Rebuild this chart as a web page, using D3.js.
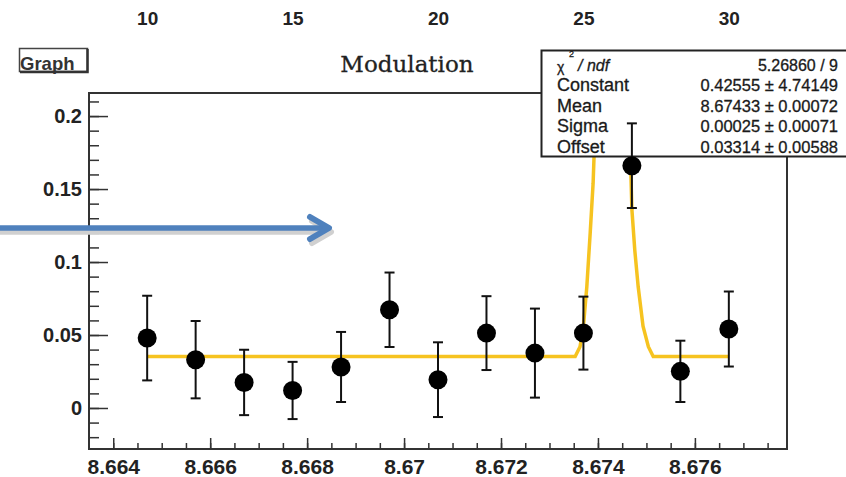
<!DOCTYPE html>
<html>
<head>
<meta charset="utf-8">
<script src="https://d3js.org/d3.v7.min.js"></script>
<style>
  body { margin: 0; background: #fff; }
  .axis text { font-family: "Liberation Sans", Arial, sans-serif; font-weight: bold; fill: #222; }
  .stats text { font-family: "Liberation Sans", Arial, sans-serif; fill: #1a1a1a; stroke: #1a1a1a; stroke-width: 0.3; }
</style>
</head>
<body>
<div id="chart"></div>
<script>
// Define data

var xValues = [8.6647, 8.6657, 8.6667, 8.6677, 8.6687, 8.6697, 8.6707, 8.6717, 8.6727, 8.6737, 8.6747, 8.6757, 8.6767];
var yValues = [0.0479, 0.0331, 0.0175, 0.0120, 0.0281, 0.0673, 0.0194, 0.0513, 0.0376, 0.0513, 0.1660, 0.0251, 0.0541];
var yErrors = [0.0290, 0.0265, 0.0224, 0.0196, 0.0240, 0.0255, 0.0256, 0.0253, 0.0305, 0.0250, 0.0290, 0.0210, 0.0257];

// fit curve (clipped at the frame top)
var fitX = [8.6647, 8.67353, 8.67363, 8.67370, 8.67377, 8.67384, 8.67390, 8.67398, 8.67462, 8.67470, 8.67476, 8.67483, 8.67493, 8.67504, 8.67514, 8.6767];
var fitY = [0.0353, 0.0353, 0.042, 0.056, 0.083, 0.120, 0.154, 0.23, 0.23, 0.136, 0.108, 0.083, 0.056, 0.042, 0.0353, 0.0353];

var xTicks = [8.664, 8.666, 8.668, 8.670, 8.672, 8.674, 8.676];
var xTickLabels = ["8.664", "8.666", "8.668", "8.67", "8.672", "8.674", "8.676"];
var yTicks = [0, 0.05, 0.1, 0.15, 0.2];
var yTickLabels = ["0", "0.05", "0.1", "0.15", "0.2"];
var topTicks = [10, 15, 20, 25, 30];

var statNames = ["Constant", "Mean", "Sigma", "Offset"];
var statValues = ["0.42555 \u00b1 4.74149", "8.67433 \u00b1 0.00072", "0.00025 \u00b1 0.00071", "0.03314 \u00b1 0.00588"];
var chi2ndf = "5.26860 / 9";

// Generate svg

var width = 846;
var height = 477;
var frame = {left: 89, top: 93, right: 787, bottom: 449};

var svg = d3.select("#chart")
  .append("svg")
  .attr("width", width)
  .attr("height", height);

// Define scales

var xScale = d3.scaleLinear()
    .domain([8.66350, 8.67790])
    .range([frame.left, frame.right]);

var yScale = d3.scaleLinear()
    .domain([-0.0281, 0.2158])
    .range([frame.bottom, frame.top]);

var topScale = d3.scaleLinear()
    .domain([10, 30])
    .range([xScale(xValues[0]), xScale(xValues[xValues.length - 1])]);

// Draw frame

svg.append("rect")
  .attr("x", frame.left)
  .attr("y", frame.top)
  .attr("width", frame.right - frame.left)
  .attr("height", frame.bottom - frame.top)
  .attr("fill", "none")
  .attr("stroke", "#333")
  .attr("stroke-width", 2);

// Draw Axes

var xMinor = d3.range(8.6640, 8.6779, 0.0005);
svg.append("g")
  .attr("class", "axis")
  .attr("transform", `translate(0, ${frame.bottom})`)
  .call(d3.axisBottom(xScale).tickValues(xMinor).tickSize(-6).tickFormat(""))
  .call(g => g.select(".domain").remove())
  .selectAll("line").attr("stroke", "#333").attr("stroke-width", 1.5);

svg.append("g")
  .attr("class", "axis")
  .attr("transform", `translate(0, ${frame.bottom})`)
  .call(d3.axisBottom(xScale).tickValues(xTicks).tickSize(-11)
    .tickFormat((d, i) => xTickLabels[i]).tickPadding(10))
  .call(g => g.select(".domain").remove())
  .call(g => g.selectAll("line").attr("stroke", "#333").attr("stroke-width", 1.5))
  .selectAll("text")
    .attr("font-size", 21);

var yMinor = d3.range(-0.02, 0.215, 0.01);
svg.append("g")
  .attr("class", "axis")
  .attr("transform", `translate(${frame.left}, 0)`)
  .call(d3.axisLeft(yScale).tickValues(yMinor).tickSize(-10).tickFormat(""))
  .call(g => g.select(".domain").remove())
  .selectAll("line").attr("stroke", "#333").attr("stroke-width", 1.5);

svg.append("g")
  .attr("class", "axis")
  .attr("transform", `translate(${frame.left}, 0)`)
  .call(d3.axisLeft(yScale).tickValues(yTicks).tickSize(-19)
    .tickFormat((d, i) => yTickLabels[i]).tickPadding(7))
  .call(g => g.select(".domain").remove())
  .call(g => g.selectAll("line").attr("stroke", "#333").attr("stroke-width", 1.5))
  .selectAll("text")
    .attr("font-size", 20);

svg.append("g")
  .attr("class", "axis")
  .attr("transform", "translate(0, 25)")
  .call(d3.axisTop(topScale).tickValues(topTicks).tickSize(0).tickPadding(0))
  .call(g => g.select(".domain").remove())
  .selectAll("text")
    .attr("font-size", 19);

// Draw Labels

svg.append("text")
  .attr("x", 407)
  .attr("y", 72)
  .attr("text-anchor", "middle")
  .attr("font-family", "'DejaVu Serif', serif")
  .attr("font-size", 23)
  .attr("fill", "#222")
  .attr("stroke", "#222")
  .attr("stroke-width", 0.3)
  .text("Modulation");

svg.append("rect")
  .attr("x", 19.5)
  .attr("y", 48.5)
  .attr("width", 68)
  .attr("height", 23)
  .attr("fill", "none")
  .attr("stroke", "#444")
  .attr("stroke-width", 1.5);
svg.append("path")
  .attr("d", "M87.5,49 L87.5,72 L20,72")
  .attr("fill", "none")
  .attr("stroke", "#333")
  .attr("stroke-width", 2.5);
svg.append("text")
  .attr("x", 20)
  .attr("y", 70)
  .attr("font-family", "'Liberation Sans', Arial, sans-serif")
  .attr("font-weight", "bold")
  .attr("font-size", 18.5)
  .attr("fill", "#333")
  .text("Graph");

// Draw fit

svg.append("clipPath")
  .attr("id", "clip")
  .append("rect")
  .attr("x", frame.left)
  .attr("y", frame.top)
  .attr("width", frame.right - frame.left)
  .attr("height", frame.bottom - frame.top);

var fitLine = d3.line()
  .x((d, i) => xScale(fitX[i]))
  .y(d => yScale(d));

svg.append("path")
  .datum(fitY)
  .attr("clip-path", "url(#clip)")
  .attr("d", fitLine)
  .attr("fill", "none")
  .attr("stroke", "#f6c320")
  .attr("stroke-width", 3.5);

// Stats box

var stats = svg.append("g").attr("class", "stats");

stats.append("rect")
  .attr("x", 541.5)
  .attr("y", 50.5)
  .attr("width", 310)
  .attr("height", 106)
  .attr("fill", "#fff")
  .attr("stroke", "#222")
  .attr("stroke-width", 2);

stats.append("text")
  .attr("x", 557).attr("y", 72)
  .attr("font-size", 14)
  .text("\u03c7");
stats.append("text")
  .attr("x", 569).attr("y", 57)
  .attr("font-size", 9)
  .text("2");
stats.append("text")
  .attr("x", 578).attr("y", 71)
  .attr("font-size", 16)
  .attr("font-style", "italic")
  .text("/ ndf");
stats.append("text")
  .attr("x", 838).attr("y", 71)
  .attr("font-size", 16)
  .attr("text-anchor", "end")
  .text(chi2ndf);

stats.selectAll(".name")
  .data(statNames)
  .enter().append("text")
  .attr("class", "name")
  .attr("x", 557)
  .attr("y", (d, i) => 91 + i * 20.5)
  .attr("font-size", 18)
  .text(d => d);

stats.selectAll(".value")
  .data(statValues)
  .enter().append("text")
  .attr("class", "value")
  .attr("x", 838)
  .attr("y", (d, i) => 91 + i * 20.5)
  .attr("font-size", 16.5)
  .attr("text-anchor", "end")
  .text(d => d);

// Draw data

var points = svg.selectAll(".point")
  .data(yValues)
  .enter().append("g")
  .attr("class", "point");

points.append("line")
  .attr("x1", (d, i) => xScale(xValues[i]))
  .attr("x2", (d, i) => xScale(xValues[i]))
  .attr("y1", (d, i) => yScale(d - yErrors[i]))
  .attr("y2", (d, i) => yScale(d + yErrors[i]))
  .attr("stroke", "#111")
  .attr("stroke-width", 2);

[-1, 1].forEach(function(s) {
  points.append("line")
    .attr("x1", (d, i) => xScale(xValues[i]) - 5)
    .attr("x2", (d, i) => xScale(xValues[i]) + 5)
    .attr("y1", (d, i) => yScale(d + s * yErrors[i]))
    .attr("y2", (d, i) => yScale(d + s * yErrors[i]))
    .attr("stroke", "#111")
    .attr("stroke-width", 2);
});

points.append("circle")
  .attr("cx", (d, i) => xScale(xValues[i]))
  .attr("cy", d => yScale(d))
  .attr("r", 9.5)
  .attr("fill", "#000");

// Arrow overlay

var arrow = svg.append("g");
[{dx: 2, dy: 4, c: "#d0d0d0"}, {dx: 0, dy: 0, c: "#4f81bd"}].forEach(function(a) {
  arrow.append("path")
    .attr("d", `M${-5 + a.dx},${228 + a.dy} L${327 + a.dx},${228 + a.dy}`)
    .attr("stroke", a.c)
    .attr("stroke-width", 5.5)
    .attr("fill", "none");
  arrow.append("path")
    .attr("d", `M${310 + a.dx},${217 + a.dy} L${329 + a.dx},${228 + a.dy} L${310 + a.dx},${239 + a.dy}`)
    .attr("stroke", a.c)
    .attr("stroke-width", 6)
    .attr("stroke-linecap", "round")
    .attr("stroke-linejoin", "round")
    .attr("fill", "none");
});
</script>
</body>
</html>
